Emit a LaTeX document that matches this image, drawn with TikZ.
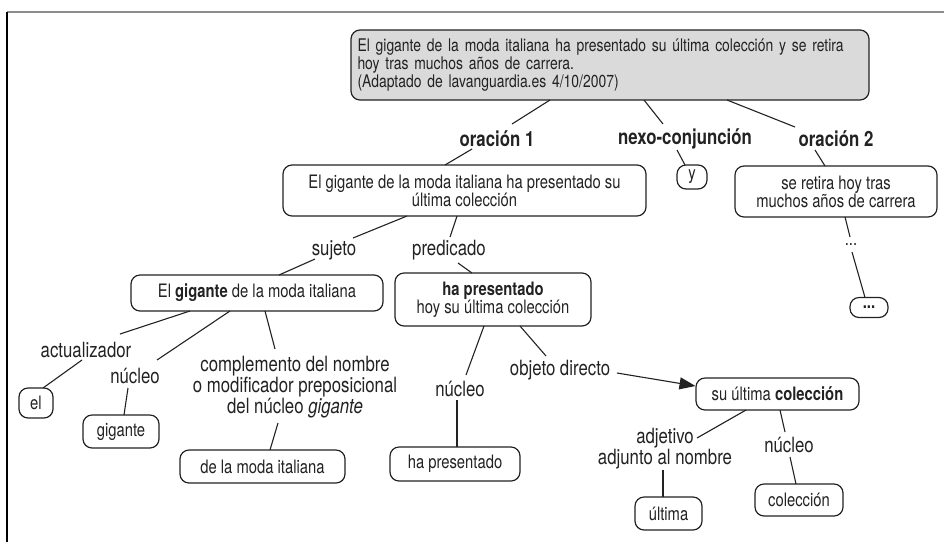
\documentclass[tikz,border=0pt]{standalone}
\usepackage{fontspec}
\setmainfont{TeX Gyre Heros}[FakeStretch=0.8]
\usetikzlibrary{arrows.meta,calc}
\definecolor{ink}{HTML}{222222}
\definecolor{topfill}{HTML}{DADADA}
\definecolor{framegray}{HTML}{8C8C8C}
\newcommand\bxfont{\fontsize{18.5}{18}\selectfont}
\newcommand\tpfont{\fontsize{17.4}{18}\selectfont}
\newcommand\lbfont{\fontsize{21}{19.5}\selectfont}
\begin{document}
\begin{tikzpicture}[x=1pt,y=-1pt,
  box/.style={draw=ink,line width=1.2pt,rounded corners=9pt,inner sep=0pt,align=center,font=\bxfont,text=ink},
  lab/.style={inner sep=0pt,align=center,font=\lbfont,text=ink},
  blab/.style={lab,font=\lbfont\bfseries},
  conn/.style={draw=ink,line width=1.1pt}]
\useasboundingbox (0,0) rectangle (944,542);
% frame
\coordinate (fl) at (7,12);
\coordinate (fr) at (944,12);
\coordinate (fb) at (7,542);
\draw[framegray,line width=2pt] (fl) -- (fr);
\draw[black,line width=1.5pt] (fl) -- (fb);

% nodes
\node[box,fill=topfill,minimum width=518pt,minimum height=70pt,text width=505pt,align=left,font=\tpfont] (top) at (610,65)
  {El gigante de la moda italiana ha presentado su última colección y se retira\\hoy tras muchos años de carrera.\\(Adaptado de lavanguardia.es 4/10/2007)};
\node[blab] (o1lab) at (497,139) {oración 1};
\node[blab] (nexo) at (685,139) {nexo-conjunción};
\node[blab] (o2lab) at (836,139) {oración 2};
\node[box,minimum width=363pt,minimum height=51pt] (o1box) at (464.5,190.5)
  {El gigante de la moda italiana ha presentado su\\última colección};
\node[box,minimum width=30pt,minimum height=24pt] (ybox) at (692,177) {y};
\node[box,minimum width=202pt,minimum height=51pt] (o2box) at (836,191.5)
  {se retira hoy tras\\muchos años de carrera};
\node[lab,font=\bxfont] (dots) at (851,245) {...};
\node[box,minimum width=38pt,minimum height=20pt] (dotsbox) at (869,307.5) {\textbf{...}};
\node[lab] (sujlab) at (334,250) {sujeto};
\node[lab] (predlab) at (449,250) {predicado};
\node[box,minimum width=252pt,minimum height=36pt] (sujbox) at (257,293)
  {El \textbf{gigante} de la moda italiana};
\node[box,minimum width=196pt,minimum height=53pt] (hpbox) at (493,299.5)
  {\textbf{ha presentado}\\hoy su última colección};
\node[lab] (actlab) at (86,350) {actualizador};
\node[lab] (nuc1lab) at (135,376) {núcleo};
\node[lab] (complab) at (295,387) {complemento del nombre\\o modificador preposicional\\del núcleo \textit{gigante}};
\node[box,minimum width=34pt,minimum height=30pt] (elbox) at (36,403) {el};
\node[box,minimum width=76pt,minimum height=33pt] (gigbox) at (121,431.5) {gigante};
\node[box,minimum width=165pt,minimum height=33pt] (delabox) at (262.5,466.5) {de la moda italiana};
\node[lab] (nuc2lab) at (460,389) {núcleo};
\node[lab] (odlab) at (560,370) {objeto directo};
\node[box,minimum width=130pt,minimum height=34pt] (hpbox2) at (455,464) {ha presentado};
\node[box,minimum width=163pt,minimum height=32pt] (sucbox) at (777.5,394) {su última \textbf{colección}};
\node[lab] (adjlab) at (665,449) {adjetivo\\adjunto al nombre};
\node[lab] (nuc3lab) at (789,445) {núcleo};
\node[box,minimum width=67pt,minimum height=33pt] (ultbox) at (668.5,513.5) {última};
\node[box,minimum width=88pt,minimum height=32pt] (colbox) at (799,500) {colección};

% connectors
\draw[conn] ($(top)+(-60,35)$) -- ($(o1lab)+(15,-15)$);
\draw[conn] ($(top)+(34,35)$) -- ($(nexo)+(-22,-15)$);
\draw[conn] ($(top)+(117,35)$) -- ($(o2lab)+(-41,-12)$);
\draw[conn] ($(o1lab)+(-25,10)$) -- ($(o1box)+(-19.5,-25.5)$);
\draw[conn] ($(nexo)+(-8,11)$) -- ($(ybox)+(-7,-12)$);
\draw[conn] ($(o2lab)+(-21,11)$) -- ($(o2box)+(-11,-25.5)$);
\draw[conn] ($(o2box)+(9,25.5)$) -- ($(dots)+(-1,-8)$);
\draw[conn] ($(dots)+(1,7)$) -- ($(dotsbox)+(-4,-10)$);
\draw[conn] ($(o1box)+(-57.5,25.5)$) -- ($(sujlab)+(19,-12)$);
\draw[conn] ($(sujlab)+(-19,9)$) -- ($(sujbox)+(22,-18)$);
\draw[conn] ($(o1box)+(-7.5,25.5)$) -- ($(predlab)+(1,-13)$);
\draw[conn] ($(predlab)+(9,13)$) -- ($(hpbox)+(-21,-26.5)$);
\draw[conn] ($(sujbox)+(-67,18)$) -- ($(actlab)+(34,-16)$);
\draw[conn] ($(actlab)+(-4,10)$) -- ($(elbox)+(7,-15)$);
\draw[conn] ($(sujbox)+(-27,18)$) -- ($(nuc1lab)+(22,-16)$);
\draw[conn] ($(nuc1lab)+(-7,12)$) -- ($(gigbox)+(3,-16.5)$);
\draw[conn] ($(sujbox)+(8,18)$) -- ($(complab)+(-20,-38)$);
\draw[conn] ($(complab)+(-17,36)$) -- ($(delabox)+(7.5,-16.5)$);
\draw[conn] ($(hpbox)+(-9,26.5)$) -- ($(nuc2lab)+(6,-14)$);
\draw[conn] ($(nuc2lab)+(-3,11)$) -- ($(hpbox2)+(2,-17)$);
\draw[conn] ($(hpbox)+(27,26.5)$) -- ($(odlab)+(-14,-14)$);
\draw[conn,-{Triangle[length=16pt,width=12pt]}] ($(odlab)+(57,3)$) -- ($(sucbox)+(-82,-8)$);
\draw[conn] ($(sucbox)+(-31.5,16)$) -- ($(adjlab)+(32,-11)$);
\draw[conn] ($(adjlab)+(-2,21)$) -- ($(ultbox)+(-5.5,-16.5)$);
\draw[conn] ($(sucbox)+(2.5,16)$) -- ($(nuc3lab)+(-4,-13)$);
\draw[conn] ($(nuc3lab)+(1,12)$) -- ($(colbox)+(-3,-16)$);
\end{tikzpicture}
\end{document}
